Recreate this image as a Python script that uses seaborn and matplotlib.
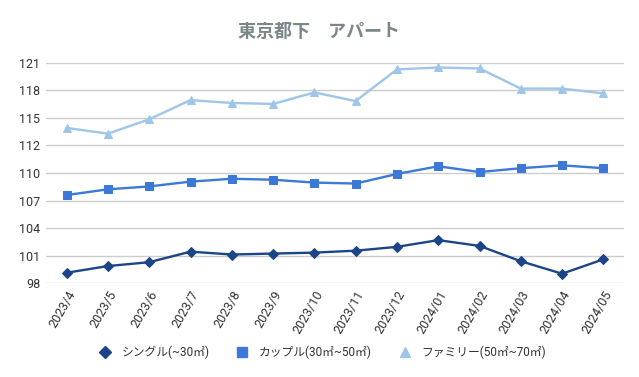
import numpy as np
import pandas as pd
import matplotlib
matplotlib.use("Agg")
import matplotlib.pyplot as plt
from matplotlib.lines import Line2D
import seaborn as sns

months = ["2023/4", "2023/5", "2023/6", "2023/7", "2023/8", "2023/9", "2023/10",
          "2023/11", "2023/12", "2024/01", "2024/02", "2024/03", "2024/04", "2024/05"]
single = [99.1, 99.8, 100.2, 101.3, 101.0, 101.1, 101.2, 101.4, 101.8, 102.5, 101.9, 100.3, 99.0, 100.5]
couple = [107.2, 107.8, 108.1, 108.6, 108.9, 108.8, 108.5, 108.4, 109.4, 110.2, 109.6, 110.0, 110.3, 110.0]
family = [114.2, 113.6, 115.1, 117.1, 116.8, 116.7, 117.9, 117.0, 120.3, 120.5, 120.4, 118.3, 118.3, 117.8]
series_names = ["シングル(~30㎡)", "カップル(30㎡~50㎡)", "ファミリー(50㎡~70㎡)"]
ytick_labels = ["98", "101", "104", "107", "110", "112", "115", "118", "121"]
title = "東京都下　アパート"

colors = ["#1c4587", "#3c78d8", "#9fc5e8"]
markers = ["D", "s", "^"]
msizes = [5, 5.5, 6]

sns.set_style("white")
plt.rcParams['font.family'] = ['Roboto', 'Noto Sans CJK JP', 'DejaVu Sans']

fig = plt.figure(figsize=(6.39, 3.77), dpi=100)
ax = fig.add_axes([46/639, 1 - 283.3/377, (624-46)/639, (283.3-62.7)/377])

x = np.arange(len(months))
for vals, name, c, m, ms in zip([single, couple, family], series_names, colors, markers, msizes):
    df = pd.DataFrame({"x": x, "y": vals})
    sns.lineplot(data=df, x="x", y="y", ax=ax, color=c, marker=m, markersize=ms,
                 markeredgecolor=c, linewidth=1.7, zorder=3)

yt = np.linspace(98, 121, 9)
ax.set_ylim(98, 121)
ax.set_yticks(yt)
ax.set_yticklabels(ytick_labels, fontsize=9, color="#333333")
ax.set_xlim(-0.5, 13.5)
ax.set_xticks(x)
ax.set_xticklabels(months, rotation=60, ha="right", rotation_mode="anchor", fontsize=9, color="#333333")
ax.tick_params(axis="both", length=0, pad=4)
ax.grid(axis="y", color="#cccccc", linewidth=1, zorder=0)
ax.set_xlabel("")
ax.set_ylabel("")
for s in ax.spines.values():
    s.set_visible(False)

handles = [Line2D([], [], linestyle="none", marker=m, color=c, markersize=ms + 1)
           for c, m, ms in zip(colors, markers, msizes)]
fig.legend(handles, series_names, loc="center", bbox_to_anchor=(0.5, 1 - 352/377), ncol=3,
           frameon=False, fontsize=8.5, handletextpad=0.4, columnspacing=1.8,
           labelcolor="#333333")

fig.text(0.5, 1 - 31/377, title, ha="center", va="center", fontsize=13,
         fontweight="bold", color="#7a8788",
         family=['Noto Sans CJK JP', 'DejaVu Sans'])

fig.savefig("out.png", dpi=100)
